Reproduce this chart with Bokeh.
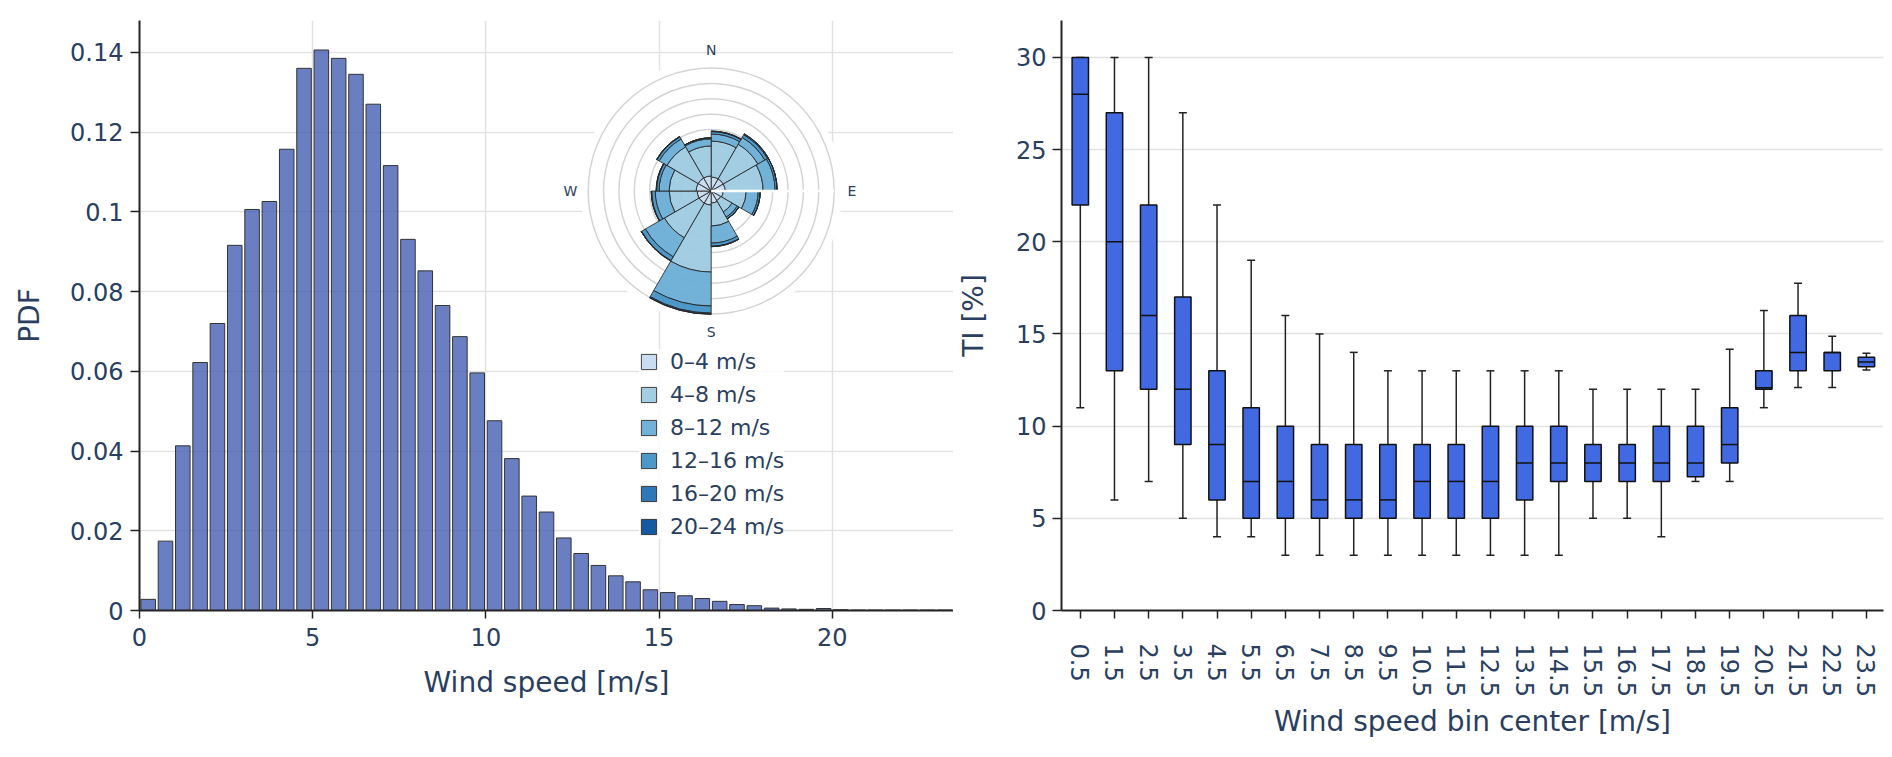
import numpy as np
from bokeh.plotting import figure
from bokeh.models import Range1d, FixedTicker, ColumnDataSource, Legend, LegendItem, Whisker
from bokeh.layouts import row
from bokeh.transform import dodge
from bokeh.core.properties import value
from bokeh.embed import file_html
from bokeh.resources import INLINE

# ---------------- data: wind speed histogram ----------------
ws_centers = [0.25, 0.75, 1.25, 1.75, 2.25, 2.75, 3.25, 3.75, 4.25, 4.75,
              5.25, 5.75, 6.25, 6.75, 7.25, 7.75, 8.25, 8.75, 9.25, 9.75,
              10.25, 10.75, 11.25, 11.75, 12.25, 12.75, 13.25, 13.75, 14.25, 14.75,
              15.25, 15.75, 16.25, 16.75, 17.25, 17.75, 18.25, 18.75, 19.25, 19.75,
              20.25, 20.75, 21.25, 21.75, 22.25, 22.75, 23.25]
pdf = [0.0028, 0.0174, 0.0413, 0.0622, 0.0720, 0.0916, 0.1006, 0.1026, 0.1157, 0.1360,
       0.1406, 0.1385, 0.1345, 0.1270, 0.1116, 0.0931, 0.0852, 0.0765, 0.0687, 0.0596,
       0.0476, 0.0381, 0.0287, 0.0247, 0.0182, 0.0143, 0.0113, 0.0087, 0.0072, 0.0052,
       0.0045, 0.0037, 0.0030, 0.0023, 0.0015, 0.0012, 0.0006, 0.0004, 0.0003, 0.0005,
       0.0002, 0.0001, 0.0001, 0.0001, 0.0001, 0.0001, 0.0001]
pdf_x_ticks = [0, 5, 10, 15, 20]
pdf_y_ticks = [0, 0.02, 0.04, 0.06, 0.08, 0.1, 0.12, 0.14]
pdf_y_labels = ["0", "0.02", "0.04", "0.06", "0.08", "0.1", "0.12", "0.14"]

# ---------------- data: wind rose ----------------
dir_centers = [15, 45, 75, 105, 135, 165, 195, 225, 255, 285, 315, 345]
speed_labels = ["0\u20134 m/s", "4\u20138 m/s", "8\u201312 m/s",
                "12\u201316 m/s", "16\u201320 m/s", "20\u201324 m/s"]
freq_0_4 = [0.91, 0.91, 0.91, 0.78, 0.72, 0.78, 0.91, 0.91, 0.91, 0.98, 0.98, 0.98]
freq_4_8 = [2.34, 2.60, 2.47, 1.50, 0.85, 1.50, 4.36, 2.60, 1.82, 1.76, 2.34, 1.95]
freq_8_12 = [0.46, 0.52, 0.78, 0.78, 0.39, 1.11, 2.21, 1.43, 0.91, 0.65, 0.59, 0.46]
freq_12_16 = [0.16, 0.20, 0.13, 0.13, 0.13, 0.20, 0.46, 0.29, 0.23, 0.16, 0.16, 0.07]
freq_16_20 = [0.03, 0.07, 0.00, 0.00, 0.00, 0.03, 0.07, 0.03, 0.03, 0.03, 0.03, 0.00]
freq_20_24 = [0.00, 0.00, 0.00, 0.00, 0.00, 0.00, 0.01, 0.00, 0.00, 0.00, 0.00, 0.00]
rose_rings = [1, 2, 3, 4, 5, 6, 7, 8]
compass_labels = ["N", "E", "S", "W"]
compass_angles = [0, 90, 180, 270]

# ---------------- data: TI box plot ----------------
ti_bin_centers = [0.5, 1.5, 2.5, 3.5, 4.5, 5.5, 6.5, 7.5, 8.5, 9.5, 10.5, 11.5,
                  12.5, 13.5, 14.5, 15.5, 16.5, 17.5, 18.5, 19.5, 20.5, 21.5, 22.5, 23.5]
ti_low = [11, 6, 7, 5, 4, 4, 3, 3, 3, 3, 3, 3, 3, 3, 3, 5, 5, 4, 7, 7, 11, 12.1, 12.1, 13.05]
ti_q1 = [22, 13, 12, 9, 6, 5, 5, 5, 5, 5, 5, 5, 5, 6, 7, 7, 7, 7, 7.25, 8, 12, 13, 13, 13.22]
ti_med = [28, 20, 16, 12, 9, 7, 7, 6, 6, 6, 7, 7, 7, 8, 8, 8, 8, 8, 8, 9, 12.08, 14, 14, 13.48]
ti_q3 = [30, 27, 22, 17, 13, 11, 10, 9, 9, 9, 9, 9, 10, 10, 10, 9, 9, 10, 10, 11, 13, 16, 14, 13.73]
ti_high = [30, 30, 30, 27, 22, 19, 16, 15, 14, 13, 13, 13, 13, 13, 13, 12, 12, 12, 12, 14.17,
           16.27, 17.75, 14.87, 13.95]
ti_y_ticks = [0, 5, 10, 15, 20, 25, 30]

# ---------------- styles ----------------
FONT = "DejaVu Sans"
TXT = "#2a3f5f"
AX = "#242424"
GRID = "#e2e2e2"
rose_colors = ["#c6dbef", "#9ecae1", "#6baed6", "#4292c6", "#2171b5", "#08519c"]


def style(p):
    p.outline_line_color = None
    for ax in p.axis:
        ax.axis_line_color = AX
        ax.axis_line_width = 2
        ax.major_tick_line_color = AX
        ax.major_tick_line_width = 1.5
        ax.major_tick_out = 9
        ax.major_tick_in = 0
        ax.minor_tick_line_color = None
        ax.major_label_text_font = FONT
        ax.major_label_text_font_size = "24px"
        ax.major_label_text_color = TXT
        ax.axis_label_text_font = FONT
        ax.axis_label_text_font_size = "28px"
        ax.axis_label_text_color = TXT
        ax.axis_label_text_font_style = "normal"
    for g in p.grid:
        g.grid_line_color = GRID
        g.grid_line_width = 1.5


# ---------------- left figure ----------------
p1 = figure(width=953, height=757, x_range=Range1d(0, 23.5), y_range=Range1d(0, 0.148),
            output_backend="svg", toolbar_location=None,
            min_border_left=139, min_border_right=0, min_border_top=20, min_border_bottom=147)
style(p1)
p1.xaxis.axis_label = "Wind speed [m/s]"
p1.yaxis.axis_label = "PDF"
p1.xaxis.ticker = FixedTicker(ticks=pdf_x_ticks)
p1.yaxis.ticker = FixedTicker(ticks=pdf_y_ticks)
p1.xgrid.ticker = FixedTicker(ticks=pdf_x_ticks)
p1.ygrid.ticker = FixedTicker(ticks=pdf_y_ticks)
p1.yaxis.major_label_overrides = {t: l for t, l in zip(pdf_y_ticks, pdf_y_labels)}
p1.xaxis.major_tick_out = 8
p1.xaxis.major_label_standoff = 9
p1.yaxis.major_label_standoff = 7
p1.xaxis.axis_label_standoff = 17
p1.yaxis.axis_label_standoff = 21

p1.vbar(x=ws_centers, top=pdf, bottom=0, width=0.42, fill_color="#3f5bb0", fill_alpha=0.78,
        line_color="#333333", line_width=1)

# rose on isotropic extra ranges
p1.extra_x_ranges = {"rx": Range1d(-37.18, 15.76)}
p1.extra_y_ranges = {"ry": Range1d(-27.28, 11.09)}
RK = dict(x_range_name="rx", y_range_name="ry")

p1.circle(x=0, y=0, radius=max(rose_rings) * 1.065, fill_color="white", line_color=None, **RK)
p1.circle(x=[0] * len(rose_rings), y=[0] * len(rose_rings), radius=rose_rings,
          fill_color=None, line_color="#d4d4d4", line_width=1.5, **RK)

half = 15
a_start = np.deg2rad(90 - (np.array(dir_centers) + half))
a_end = np.deg2rad(90 - (np.array(dir_centers) - half))
layers = [freq_0_4, freq_4_8, freq_8_12, freq_12_16, freq_16_20, freq_20_24]
cum = np.zeros(len(dir_centers))
rose_renderers = []
for vals, col in zip(layers, rose_colors):
    inner = cum.copy()
    outer = cum + np.array(vals)
    cum = outer
    src = ColumnDataSource(dict(x=[0] * len(dir_centers), y=[0] * len(dir_centers),
                                r0=inner, r1=outer, a0=a_start, a1=a_end))
    r = p1.annular_wedge(x="x", y="y", inner_radius="r0", outer_radius="r1",
                         start_angle="a0", end_angle="a1", source=src,
                         fill_color=col, fill_alpha=0.95, line_color="#262626",
                         line_width=1, line_alpha=0.85, **RK)
    rose_renderers.append(r)

# radial axis line (east)
p1.segment(x0=0, y0=0, x1=max(rose_rings), y1=0, line_color="white", line_width=2.5, **RK)

lab_r = max(rose_rings) * 1.145
ang = np.deg2rad(np.array(compass_angles))
p1.text(x=lab_r * np.sin(ang), y=lab_r * np.cos(ang), text=compass_labels,
        text_font=value(FONT), text_font_size="14px", text_color=TXT,
        text_align="center", text_baseline="middle", **RK)

legend = Legend(items=[LegendItem(label=l, renderers=[r]) for l, r in zip(speed_labels, rose_renderers)],
                location=(500, 71))
legend.background_fill_color = "white"
legend.background_fill_alpha = 0.85
legend.border_line_color = None
legend.label_text_font = FONT
legend.label_text_font_size = "22px"
legend.label_text_color = TXT
legend.glyph_width = 19
legend.glyph_height = 19
legend.label_standoff = 12
legend.spacing = 8
legend.padding = 15
legend.margin = 0
p1.add_layout(legend)

# ---------------- right figure ----------------
p2 = figure(width=939, height=757, x_range=Range1d(-0.05, 24), y_range=Range1d(0, 32),
            output_backend="svg", toolbar_location=None,
            min_border_left=104, min_border_right=9, min_border_top=20, min_border_bottom=147)
style(p2)
p2.xgrid.grid_line_color = None
p2.xaxis.axis_label = "Wind speed bin center [m/s]"
p2.yaxis.axis_label = "TI [%]"
p2.xaxis.ticker = FixedTicker(ticks=ti_bin_centers)
p2.xaxis.major_label_overrides = {c: str(c) for c in ti_bin_centers}
p2.xaxis.major_label_orientation = -np.pi / 2
p2.yaxis.ticker = FixedTicker(ticks=ti_y_ticks)
p2.ygrid.ticker = FixedTicker(ticks=ti_y_ticks)
p2.xaxis.major_tick_out = 8
p2.xaxis.major_label_standoff = 25
p2.yaxis.major_label_standoff = 6
p2.xaxis.axis_label_standoff = 5
p2.yaxis.axis_label_standoff = 23

src2 = ColumnDataSource(dict(x=ti_bin_centers, lo=ti_low, q1=ti_q1, med=ti_med, q3=ti_q3, hi=ti_high))
wh = Whisker(base="x", lower="lo", upper="hi", source=src2, dimension="height",
             line_color="#222222", line_width=1.5)
wh.upper_head.size = 8
wh.lower_head.size = 8
wh.upper_head.line_color = "#222222"
wh.lower_head.line_color = "#222222"
wh.upper_head.line_width = 1.5
wh.lower_head.line_width = 1.5
p2.add_layout(wh)
p2.vbar(x="x", bottom="q1", top="q3", width=0.48, source=src2,
        fill_color="#4169e1", line_color="#111111", line_width=1.5)
p2.segment(x0=dodge("x", -0.24), x1=dodge("x", 0.24), y0="med", y1="med", source=src2,
           line_color="#111111", line_width=1.5)

layout = row(p1, p2)
open("out.html", "w").write(file_html(layout, INLINE))
